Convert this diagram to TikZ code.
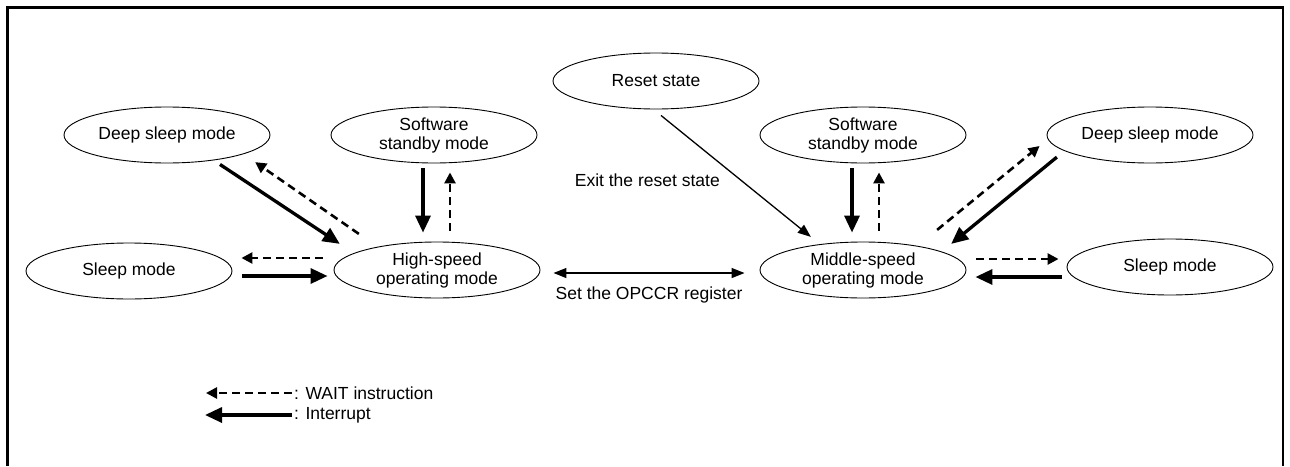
\documentclass[tikz,border=0pt]{standalone}
\usepackage{fontspec}
\setmainfont{Liberation Sans}
\usetikzlibrary{positioning, arrows.meta, shapes.geometric}

\begin{document}
\begin{tikzpicture}[x=1pt, y=-1pt,
    modebox/.style={ellipse, draw, line width=0.9pt, minimum width=206pt, minimum height=56pt,
                    inner sep=0pt, align=center, font=\fontsize{17.5}{19}\selectfont},
    intr/.style={line width=3.3pt, -{Triangle[length=17pt, width=15pt]}},
    wait/.style={line width=2.6pt, dash pattern=on 8pt off 5pt, -{Triangle[length=11pt, width=11pt]}},
    thinarrow/.style={line width=1.3pt, -{Triangle[length=13pt, width=10pt]}},
    note/.style={font=\fontsize{17.5}{19}\selectfont, inner sep=0pt}]
    \useasboundingbox (0,0) rectangle (1290,466);
    \draw[line width=2.5pt] (7.5,466) -- (7.5,7.5) -- (1283,7.5) -- (1283,466);

    \node[modebox] (deepL)  at (167,135) {Deep sleep mode};
    \node[modebox] (swL)    at (434,135) {Software\\standby mode};
    \node[modebox] (reset)  at (656,81)  {Reset state};
    \node[modebox] (swR)    at (863,135) {Software\\standby mode};
    \node[modebox] (deepR)  at (1150,135) {Deep sleep mode};
    \node[modebox] (sleepL) at (129,271) {Sleep mode};
    \node[modebox] (high)   at (437,270) {High-speed\\operating mode};
    \node[modebox] (mid)    at (863,270) {Middle-speed\\operating mode};
    \node[modebox] (sleepR) at (1170,267) {Sleep mode};

    \draw[intr] ([shift={(53,1)}]deepL.south) -- ([shift={(-24,-6)}]high.north west);
    \draw[wait] ([shift={(-5,-16)}]high.north west) -- ([shift={(15,7)}]deepL.south east);
    \draw[intr] ([shift={(-11,5)}]swL.south) -- ([shift={(-14,-9)}]high.north);
    \draw[wait] ([shift={(13,-11)}]high.north) -- ([shift={(16,9)}]swL.south);
    \draw[wait] ([shift={(-11,-12)}]high.west) -- ([shift={(9,-13)}]sleepL.east);
    \draw[intr] ([shift={(10,5)}]sleepL.east) -- ([shift={(-6,6)}]high.west);

    \draw[thinarrow, {Triangle[length=13pt, width=10pt]}-{Triangle[length=13pt, width=10pt]}]
        ([shift={(13,3)}]high.east) -- ([shift={(-15,3)}]mid.west)
        node[note, midway, below=13pt] {Set the OPCCR register};
    \draw[thinarrow] ([shift={(5,6)}]reset.south) -- ([shift={(21,-13)}]mid.north west)
        node[note, pos=0.53, left=20pt] {Exit the reset state};

    \draw[intr] ([shift={(-11,5)}]swR.south) -- ([shift={(-11,-9)}]mid.north);
    \draw[wait] ([shift={(16,-11)}]mid.north) -- ([shift={(16,9)}]swR.south);
    \draw[wait] ([shift={(1,-20)}]mid.north east) -- ([shift={(-7,11)}]deepR.west);
    \draw[intr] ([shift={(-20,2)}]deepR.south west) -- ([shift={(15,-6)}]mid.north east);
    \draw[wait] ([shift={(10,-11)}]mid.east) -- ([shift={(-8,-8)}]sleepR.west);
    \draw[intr] ([shift={(-5,10)}]sleepR.west) -- ([shift={(9,7)}]mid.east);

    \node[note, anchor=west] (waitkey) at (294,393) {: WAIT instruction};
    \node[note, anchor=west] (intrkey) at (294,415) {: Interrupt};
    \coordinate (waitend) at (206,393);
    \coordinate (intrend) at (205,415);
    \draw[wait] ([xshift=-2pt]waitkey.west) -- (waitend);
    \draw[intr] ([xshift=-2pt]intrkey.west) -- (intrend);
\end{tikzpicture}
\end{document}
